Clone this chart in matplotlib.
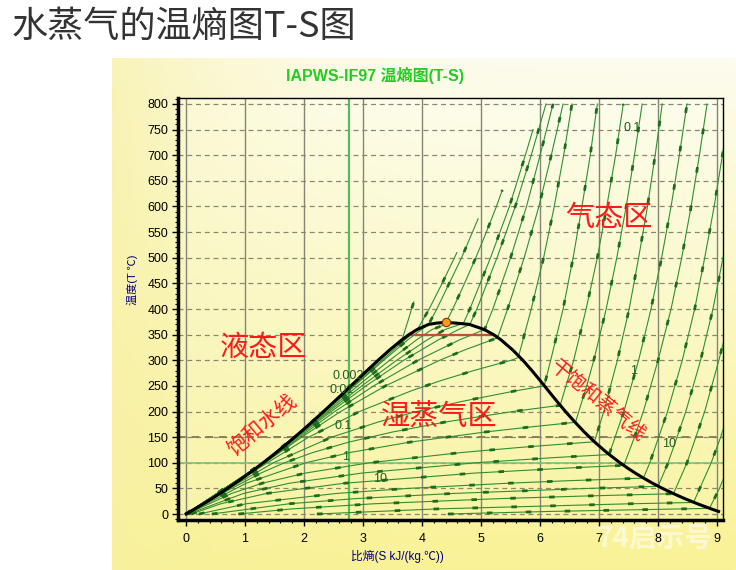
import numpy as np
import matplotlib.pyplot as plt
from matplotlib.ticker import MultipleLocator

plt.rcParams['font.family'] = ['Liberation Sans', 'Noto Sans CJK SC', 'DejaVu Sans']

# saturation dome (s in kJ/(kg.C), T in C)
s_liq = [0.0, 0.151, 0.2965, 0.4368, 0.5724, 0.7038, 0.8313, 0.9551, 1.0756, 1.1929, 1.3072,
         1.5279, 1.7392, 1.9426, 2.1392, 2.3305, 2.5177, 2.7020, 2.8849, 3.0685, 3.2552,
         3.4494, 3.6601, 3.7784, 3.9167, 4.1112, 4.25, 4.41]
t_liq = [0, 10, 20, 30, 40, 50, 60, 70, 80, 90, 100, 120, 140, 160, 180, 200, 220, 240, 260,
         280, 300, 320, 340, 350, 360, 370, 372.5, 374]
s_vap = [4.41, 4.57, 4.8012, 5.0536, 5.2110, 5.3356, 5.5372, 5.7081, 5.8605, 6.0036, 6.1437,
         6.2846, 6.4302, 6.5850, 6.7491, 6.9293, 7.1291, 7.3541, 7.4781, 7.6111, 7.7540,
         7.9081, 8.0748, 8.2555, 8.4520, 8.6660, 8.8999, 9.0249]
t_vap = [374, 372.5, 370, 360, 350, 340, 320, 300, 280, 260, 240, 220, 200, 180, 160, 140, 120,
         100, 90, 80, 70, 60, 50, 40, 30, 20, 10, 5]
crit_s, crit_t = 4.41, 374

# isotherm drawn in red inside the dome
iso350_s = [3.7784, 5.2110]
iso350_t = [350, 350]

# isochores (specific volume, m3/kg)
iso_v = [0.00164, 0.0019, 0.0022, 0.003, 0.004, 0.005, 0.007, 0.01, 0.02, 0.05,
         0.1, 0.2, 0.5, 1, 2, 5, 10, 20, 50, 100]
iso_s = [
    [0, 1.31, 2.34, 3.28, 3.66, 3.77, 3.86],
    [0, 1.31, 2.35, 3.32, 3.71, 3.92, 4.12, 4.34, 4.59],
    [0, 1.31, 2.36, 3.35, 3.76, 3.99, 4.11, 4.25, 4.46, 4.67, 4.95],
    [0, 1.31, 2.39, 2.91, 3.45, 3.91, 4.17, 4.40, 4.41, 4.52, 4.72, 4.91, 5.09, 5.26, 5.36],
    [0, 1.32, 2.42, 2.98, 3.57, 4.09, 4.39, 4.70, 4.81, 5.16, 5.48, 5.75, 5.88],
    [0, 1.32, 2.46, 3.05, 3.69, 4.28, 4.62, 4.81, 4.93, 5.27, 5.58, 5.85, 6.10],
    [0, 1.33, 2.52, 3.18, 3.93, 4.64, 4.85, 5.06, 5.20, 5.50, 5.77, 6.00, 6.22],
    [0, 1.34, 1.96, 2.62, 3.38, 4.30, 4.72, 5.19, 5.28, 5.45, 5.73, 5.98, 6.19, 6.39],
    [0, 1.38, 2.08, 2.94, 3.81, 4.31, 4.88, 5.51, 5.63, 5.85, 6.06, 6.24, 6.40, 6.54],
    [0, 0.30, 0.88, 1.48, 2.47, 3.27, 3.91, 4.69, 5.57, 6.07, 6.18, 6.39, 6.56, 6.71, 6.85, 6.97],
    [0, 0.61, 1.27, 1.67, 2.15, 2.75, 3.50, 4.42, 5.54, 6.20, 6.34, 6.57, 6.78, 6.97, 7.13, 7.28, 7.41],
    [0.01, 1.02, 2.03, 2.78, 3.78, 5.07, 5.85, 6.60, 6.79, 6.91, 7.12, 7.30, 7.46, 7.60, 7.73],
    [0.02, 0.77, 1.29, 2.03, 3.11, 4.67, 5.67, 6.23, 6.92, 7.08, 7.31, 7.51, 7.67, 7.82, 7.95, 8.07],
    [0.04, 0.97, 1.75, 2.99, 4.92, 6.23, 7.17, 7.42, 7.67, 7.88, 8.06, 8.22, 8.36, 8.49],
    [0.09, 0.59, 1.36, 2.68, 4.91, 6.52, 7.42, 7.60, 7.75, 8.00, 8.22, 8.40, 8.56, 8.70, 8.83],
    [0.22, 1.02, 2.54, 3.77, 5.45, 6.49, 7.75, 7.86, 8.16, 8.41, 8.62, 8.79, 8.95, 9.09, 9.22],
    [0.44, 1.75, 2.87, 4.51, 6.83, 8.00, 8.17, 8.47, 8.72, 8.93, 9.10, 9.26],
    [0.89, 1.80, 3.19, 5.31, 6.73, 8.26, 8.49, 8.79, 9.03, 9.14],
    [2.22, 4.27, 7.54, 8.60, 8.90, 9.06, 9.20],
    [4.44, 6.16, 8.87, 9.04, 9.22],
]
iso_t = [
    [0, 100, 200, 300, 340, 380, 414],
    [0, 100, 200, 300, 340, 360, 400, 450, 510],
    [0, 100, 200, 300, 340, 360, 370, 400, 450, 500, 576],
    [0, 100, 200, 250, 300, 340, 360, 370, 374, 400, 450, 500, 550, 600, 632],
    [0, 100, 200, 250, 300, 340, 360, 372, 400, 500, 600, 700, 750],
    [0, 100, 200, 250, 300, 340, 360, 370, 400, 500, 600, 700, 800],
    [0, 100, 200, 250, 300, 340, 350, 360, 400, 500, 600, 700, 800],
    [0, 100, 150, 200, 250, 300, 320, 340, 344, 400, 500, 600, 700, 800],
    [0, 100, 150, 200, 240, 260, 280, 300, 305, 400, 500, 600, 700, 800],
    [0, 20, 60, 100, 150, 180, 200, 220, 240, 250, 300, 400, 500, 600, 700, 800],
    [0, 40, 80, 100, 120, 140, 160, 180, 200, 210, 212, 300, 400, 500, 600, 700, 800],
    [0, 60, 100, 120, 140, 160, 170, 179, 250, 300, 400, 500, 600, 700, 800],
    [0, 40, 60, 80, 100, 120, 130, 135, 141, 200, 300, 400, 500, 600, 700, 800],
    [0, 40, 60, 80, 100, 110, 116, 200, 300, 400, 500, 600, 700, 800],
    [0, 20, 40, 60, 80, 90, 95, 150, 200, 300, 400, 500, 600, 700, 800],
    [0, 20, 40, 50, 60, 65, 70, 100, 200, 300, 400, 500, 600, 700, 800],
    [0, 20, 30, 40, 50, 54, 100, 200, 300, 400, 500, 600],
    [0, 10, 20, 30, 35, 39.6, 100, 200, 300, 350],
    [0, 10, 20, 22.5, 100, 150, 200],
    [0, 5, 11, 50, 100],
]

# isochore labels: text, s, T
vlab_text = ['0.002', '0.01', '0.1', '1', '10', '0.1', '1', '10']
vlab_s = [2.75, 2.64, 2.66, 2.70, 3.29, 7.56, 7.59, 8.19]
vlab_t = [269, 242, 171, 111, 69, 753, 279, 136]

# region annotations: text, s, T, rotation, size
reg_text = ['液态区', '气态区', '湿蒸气区', '饱和水线', '干饱和蒸气线']
reg_s = [1.32, 7.17, 4.29, 1.29, 6.98]
reg_t = [324, 578, 187, 174, 220]
reg_rot = [0, 0, 0, 40, -39]
reg_size = [21, 21, 21, 15, 14]

W, H = 736, 570
fig = plt.figure(figsize=(W / 100, H / 100), dpi=100)


def gradient(top, bottom, left, k_left, n=120):
    v = np.linspace(0, 1, n)[:, None] * np.ones((1, n))
    u = np.ones((n, 1)) * np.linspace(0, 1, n)[None, :]
    top, bottom, left = [np.array(c) / 255.0 for c in (top, bottom, left)]
    img = top * (1 - v[..., None]) + bottom * v[..., None]
    k = (k_left * (1 - u) ** 4)[..., None]
    return img * (1 - k) + left * k


# yellow backdrop of the chart picture
bg = fig.add_axes([112 / W, 0, (W - 112) / W, (H - 58) / H])
bg.imshow(gradient((253, 252, 238), (250, 242, 150), (247, 240, 160), 0.7),
          aspect='auto', extent=(0, 1, 0, 1))
bg.axis('off')
bg.set_zorder(0)

# faint watermark, under the tick labels
fig.text(655 / W, 1 - 540 / H, '74启示号', fontsize=20, fontweight='bold', color='white',
         alpha=0.55, ha='center', va='center', family=['Noto Sans CJK SC'], zorder=1)

ax = fig.add_axes([178 / W, 50 / H, 545 / W, 422 / H])
ax.set_zorder(2)
xlim = (-0.136, 9.10)
ylim = (-11.7, 811.7)
ax.imshow(gradient((253, 253, 236), (249, 244, 165), (248, 243, 175), 0.4),
          aspect='auto', extent=(xlim[0], xlim[1], ylim[0], ylim[1]), zorder=0)
ax.set_xlim(xlim)
ax.set_ylim(ylim)

ax.set_axisbelow(True)
ax.xaxis.grid(True, color='#858575', lw=1.0, ls='-')
ax.yaxis.grid(True, color='#8c8870', lw=0.9, ls=(0, (4, 3)))
ax.axhline(150, color='#8a8058', lw=1.4, ls=(0, (4, 3)), zorder=1)
ax.axvline(2.76, color='#5cb85c', lw=1.6, zorder=1)
ax.axhline(100, color='#7cc47c', lw=1.2, zorder=1)

for s, t in zip(iso_s, iso_t):
    ax.plot(s, t, color='#2f8f2f', lw=0.8, zorder=3)
    ax.plot(s, t, color='#1d6b1d', lw=2.0, ls=(0, (2, 12)), zorder=3)

ax.plot(iso350_s, iso350_t, color='#c0503a', lw=1.6, zorder=4)
ax.plot(s_liq, t_liq, color='black', lw=2.2, zorder=5)
ax.plot(s_vap, t_vap, color='black', lw=2.2, zorder=5)
ax.plot(crit_s, crit_t, 'o', ms=6, mfc='#ff9a1a', mec='#7a3a00', mew=0.8, zorder=6)

for txt, s, t in zip(vlab_text, vlab_s, vlab_t):
    ax.text(s, t, txt, color='#1d5e1d', fontsize=9, ha='center', va='center', zorder=7)

for txt, s, t, r, fs in zip(reg_text, reg_s, reg_t, reg_rot, reg_size):
    ax.text(s, t, txt, color='#ff1a1a', fontsize=fs, rotation=r, ha='center', va='center',
            family=['Noto Sans CJK SC'], fontweight='light', rotation_mode='anchor', zorder=8)

ax.set_xticks(range(10))
ax.set_yticks(range(0, 801, 50))
ax.xaxis.set_minor_locator(MultipleLocator(0.2))
ax.yaxis.set_minor_locator(MultipleLocator(10))
ax.tick_params(which='major', direction='out', length=4, width=1, labelsize=9, colors='black')
ax.tick_params(which='minor', direction='out', length=2, width=0.8)
ax.tick_params(axis='x', pad=5)
ax.tick_params(axis='y', pad=3)
for side in ('left', 'bottom'):
    ax.spines[side].set_linewidth(2.5)
for side in ('top', 'right'):
    ax.spines[side].set_linewidth(1.0)

fig.text(12 / W, 1 - 27 / H, '水蒸气的温熵图T-S图', fontsize=26, ha='left', va='center',
         color='#333333', family=['Noto Sans CJK SC'])
fig.text(375 / W, 1 - 75.5 / H, 'IAPWS-IF97 温熵图(T-S)', fontsize=11.5, fontweight='bold',
         color='#22cc22', ha='center', va='center')
fig.text(132 / W, 1 - 280 / H, '温度(T ℃)', rotation=90, fontsize=8, color='#000080',
         ha='center', va='center')
fig.text(397 / W, 1 - 556 / H, '比熵(S kJ/(kg.℃))', fontsize=8.5, color='#000080',
         ha='center', va='center')

fig.savefig('out.png', dpi=100)
